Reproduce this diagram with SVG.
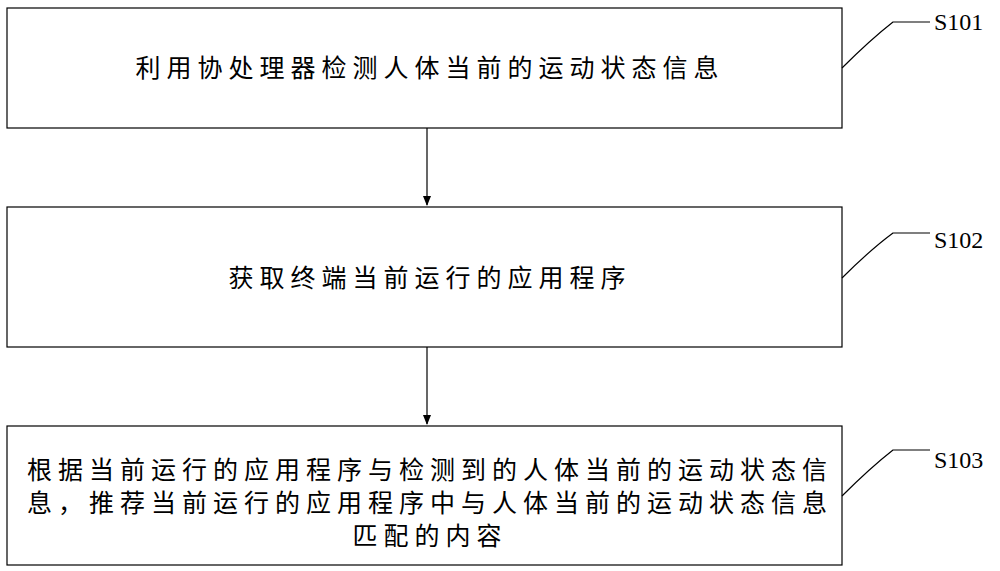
<svg xmlns="http://www.w3.org/2000/svg" width="1000" height="571" viewBox="0 0 1000 571">
<style>
.b{fill:#fff;stroke:#000;stroke-width:1.2}
.t{font-family:"Noto Sans CJK SC",sans-serif;font-size:25px;letter-spacing:6px;text-anchor:middle;fill:#000}
.s{font-family:"Liberation Serif",serif;font-size:24px;fill:#000}
.l{fill:none;stroke:#000;stroke-width:1.2}
</style>
<defs><marker id="a" markerWidth="10" markerHeight="10" refX="9" refY="5" orient="auto" markerUnits="userSpaceOnUse"><path d="M0,1 L10,5 L0,9 z" fill="#000"/></marker></defs>
<g id="n1"><rect class="b" x="7" y="8" width="835" height="120"/><text class="t" x="430" y="77">利用协处理器检测人体当前的运动状态信息</text></g>
<g id="n2"><rect class="b" x="7" y="207" width="835" height="140"/><text class="t" x="430" y="287">获取终端当前运行的应用程序</text></g>
<g id="n3"><rect class="b" x="7" y="426" width="835" height="139"/><text class="t" x="430" y="479">根据当前运行的应用程序与检测到的人体当前的运动状态信</text><text class="t" x="430" y="512">息，推荐当前运行的应用程序中与人体当前的运动状态信息</text><text class="t" x="430" y="545">匹配的内容</text></g>
<g id="labels"><text class="s" x="934" y="30">S101</text><text class="s" x="934" y="248">S102</text><text class="s" x="934" y="468">S103</text></g>
<g id="connectors">
<line class="l" x1="427" y1="128" x2="427" y2="205" marker-end="url(#a)"/>
<line class="l" x1="427" y1="347" x2="427" y2="424" marker-end="url(#a)"/>
<path class="l" d="M842,68 Q870,40 893,22 L930,22"/>
<path class="l" d="M842,278 Q870,250 893,233 L930,233"/>
<path class="l" d="M842,496 Q870,468 893,450 L930,450"/>
</g>
</svg>
